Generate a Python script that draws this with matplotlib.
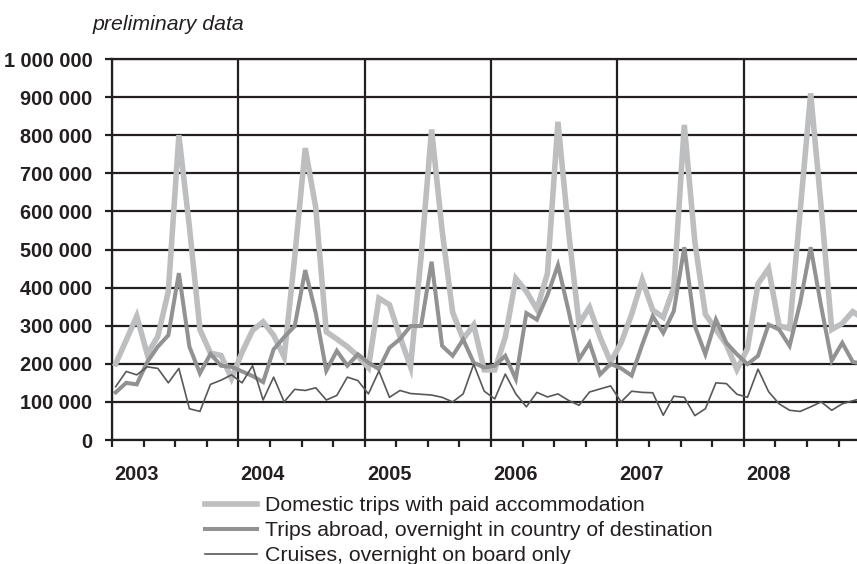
import numpy as np
import matplotlib
matplotlib.use('Agg')
import matplotlib.pyplot as plt
from matplotlib.ticker import FuncFormatter, MultipleLocator, FixedLocator

plt.rcParams['font.family'] = ['Liberation Sans', 'DejaVu Sans']

years = ['2003', '2004', '2005', '2006', '2007', '2008']

# monthly values in thousands, Jan 2003 - Dec 2008
domestic = [200, 262, 325, 225, 272, 390, 800, 560, 290, 228, 222, 162,
            230, 288, 310, 275, 218, 480, 766, 610, 284, 265, 245, 220,
            190, 372, 355, 271, 192, 480, 815, 550, 335, 265, 302, 184,
            184, 270, 424, 390, 343, 437, 835, 550, 305, 348, 270, 205,
            255, 330, 420, 341, 322, 400, 827, 520, 330, 290, 250, 185,
            240, 410, 450, 300, 292, 600, 910, 610, 290, 306, 337, 318]
abroad = [125, 150, 146, 205, 245, 275, 438, 245, 175, 226, 195, 192,
          180, 168, 152, 238, 270, 299, 446, 333, 182, 234, 195, 225,
          203, 186, 242, 265, 299, 299, 468, 247, 221, 264, 203, 190,
          195, 221, 160, 333, 316, 380, 459, 340, 212, 255, 172, 200,
          188, 169, 250, 325, 281, 338, 506, 299, 225, 316, 255, 225,
          199, 221, 303, 290, 247, 360, 506, 350, 208, 255, 205, 200]
cruises = [140, 180, 171, 192, 188, 150, 188, 82, 75, 146, 157, 171,
           150, 195, 105, 165, 100, 133, 130, 137, 105, 117, 165, 156,
           121, 181, 112, 130, 122, 120, 118, 112, 100, 121, 199, 128,
           108, 173, 121, 87, 125, 113, 121, 104, 91, 126, 134, 142,
           100, 128, 125, 124, 65, 115, 112, 64, 82, 150, 148, 120,
           112, 186, 127, 95, 78, 75, 87, 100, 78, 95, 103, 110]

labels = ['Domestic trips with paid accommodation',
          'Trips abroad, overnight in country of destination',
          'Cruises, overnight on board only']

W, H = 857, 564
fig = plt.figure(figsize=(W / 100, H / 100), dpi=100)
ax = fig.add_axes([112 / W, 1 - 440 / H, 1 - 112 / W, (440 - 59) / H])

x = np.arange(len(domestic)) + 0.35
ax.plot(x, np.array(domestic) * 1000, color='#bdbec0', lw=4.0,
        solid_joinstyle='miter', label=labels[0], zorder=3)
ax.plot(x, np.array(abroad) * 1000, color='#929293', lw=2.9,
        solid_joinstyle='miter', label=labels[1], zorder=4)
ax.plot(x, np.array(cruises) * 1000, color='#58585a', lw=1.2,
        label=labels[2], zorder=5)

ax.set_xlim(0, 70.75)
ax.set_ylim(0, 1000000)

grid_c = '#231f20'
ax.yaxis.set_major_locator(MultipleLocator(100000))
ax.yaxis.set_major_formatter(FuncFormatter(lambda v, p: f'{int(v):,}'.replace(',', ' ')))
ax.xaxis.set_major_locator(MultipleLocator(12))
ax.xaxis.set_minor_locator(FixedLocator([12 * k + m for k in range(6) for m in (3, 6, 9)]))
ax.xaxis.set_major_formatter(FuncFormatter(lambda v, p: ''))
ax.grid(True, which='major', color=grid_c, lw=1.6, zorder=1)
ax.set_axisbelow(True)

ax.tick_params(axis='y', direction='out', length=5, width=1.6, color=grid_c, pad=9,
               labelsize=14.3)
ax.tick_params(axis='x', which='both', direction='out', length=5, width=1.6,
               color=grid_c)
for lab in ax.get_yticklabels():
    lab.set_fontweight('bold')
    lab.set_color('#231f20')

for s in ['left', 'bottom', 'top']:
    ax.spines[s].set_color(grid_c)
    ax.spines[s].set_linewidth(1.6)
ax.spines['right'].set_visible(False)

for k, yr in enumerate(years):
    ax.text(12 * k + 0.2, -35 / 381, yr, transform=ax.get_xaxis_transform(),
            ha='left', va='center', fontsize=14.3, fontweight='bold',
            color='#231f20')

fig.text(93 / W, 1 - 25 / H, 'preliminary data', fontsize=15.3, style='italic',
         ha='left', va='center', color='#231f20')

ax.legend(loc='upper left', bbox_to_anchor=(205 / W, 1 - 496 / H),
          bbox_transform=fig.transFigure, frameon=False, fontsize=15.3,
          handlelength=2.46, handletextpad=0.38, labelspacing=0.29,
          borderpad=0, borderaxespad=0, labelcolor='#231f20')

fig.savefig('out.png', dpi=100)
